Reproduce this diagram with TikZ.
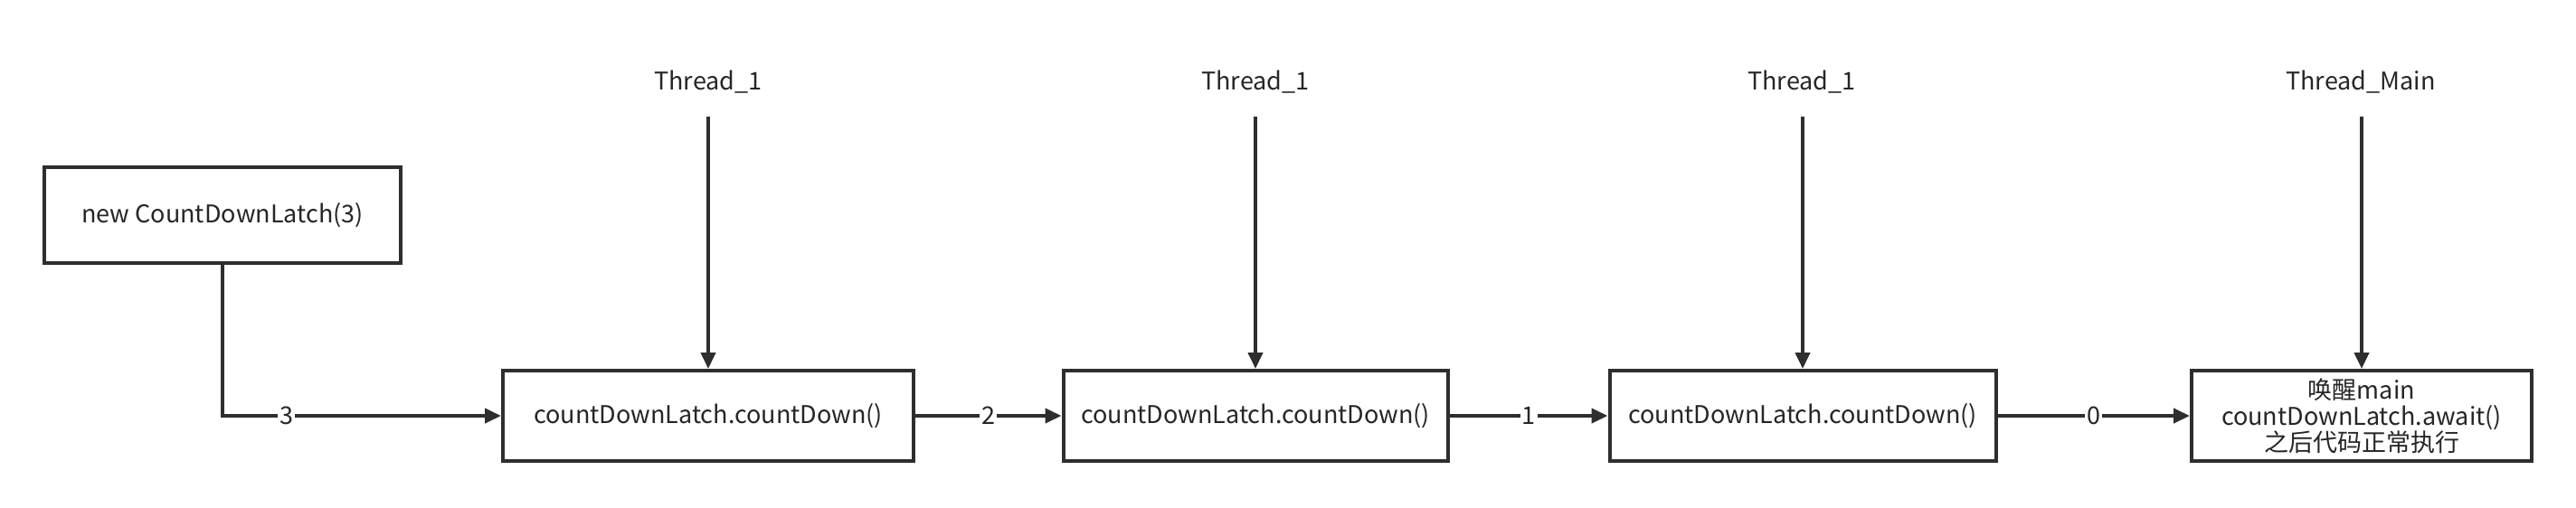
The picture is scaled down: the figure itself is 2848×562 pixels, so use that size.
\documentclass[tikz,border=0pt]{standalone}
\usepackage{fontspec}
\setmainfont{Noto Sans CJK SC}
\usetikzlibrary{arrows.meta}
\begin{document}
\begin{tikzpicture}[x=0.5pt,y=-0.5pt,
  box/.style={draw=black!82,line width=2pt,rectangle,minimum height=50pt,inner sep=0pt,align=center,font=\fontsize{13.5}{15}\selectfont,text=black!85},
  lbl/.style={font=\fontsize{13.5}{15}\selectfont,text=black!85,inner sep=0pt},
  elbl/.style={font=\fontsize{13.5}{15}\selectfont,text=black!85,fill=white,inner sep=1pt},
  conn/.style={draw=black!82,line width=2pt,-{Triangle[length=9pt,width=8pt]}}]
\useasboundingbox[fill=white] (0,0) rectangle (2848,562);
\node[box,minimum width=197pt,minimum height=53pt] (b1) at (246,238) {new CountDownLatch(3)};
\node[box,minimum width=227pt] (b2) at (783,460) {countDownLatch.countDown()};
\node[box,minimum width=212.5pt] (b3) at (1388,460) {countDownLatch.countDown()};
\node[box,minimum width=213.5pt] (b4) at (1993,460) {countDownLatch.countDown()};
\node[box,minimum width=188pt,font=\fontsize{13.5}{14.5}\selectfont] (b5) at (2611,460) {唤醒main\\countDownLatch.await()\\之后代码正常执行};
\node[lbl] (t1) at (783,91) {Thread\_1};
\node[lbl] (t2) at (1388,91) {Thread\_1};
\node[lbl] (t3) at (1992,91) {Thread\_1};
\node[lbl] (t4) at (2610,91) {Thread\_Main};
\coordinate (s1) at (783,129);
\coordinate (s2) at (1388,129);
\coordinate (s3) at (1993,129);
\coordinate (s4) at (2611,129);
\draw[conn] (s1) -- (b2.north);
\draw[conn] (s2) -- (b3.north);
\draw[conn] (s3) -- (b4.north);
\draw[conn] (s4) -- (b5.north);
\draw[conn] (b1.south) |- node[elbl,pos=0.615] {3} (b2.west);
\draw[conn] (b2.east) -- node[elbl] {2} (b3.west);
\draw[conn] (b3.east) -- node[elbl] {1} (b4.west);
\draw[conn] (b4.east) -- node[elbl] {0} (b5.west);
\end{tikzpicture}
\end{document}
